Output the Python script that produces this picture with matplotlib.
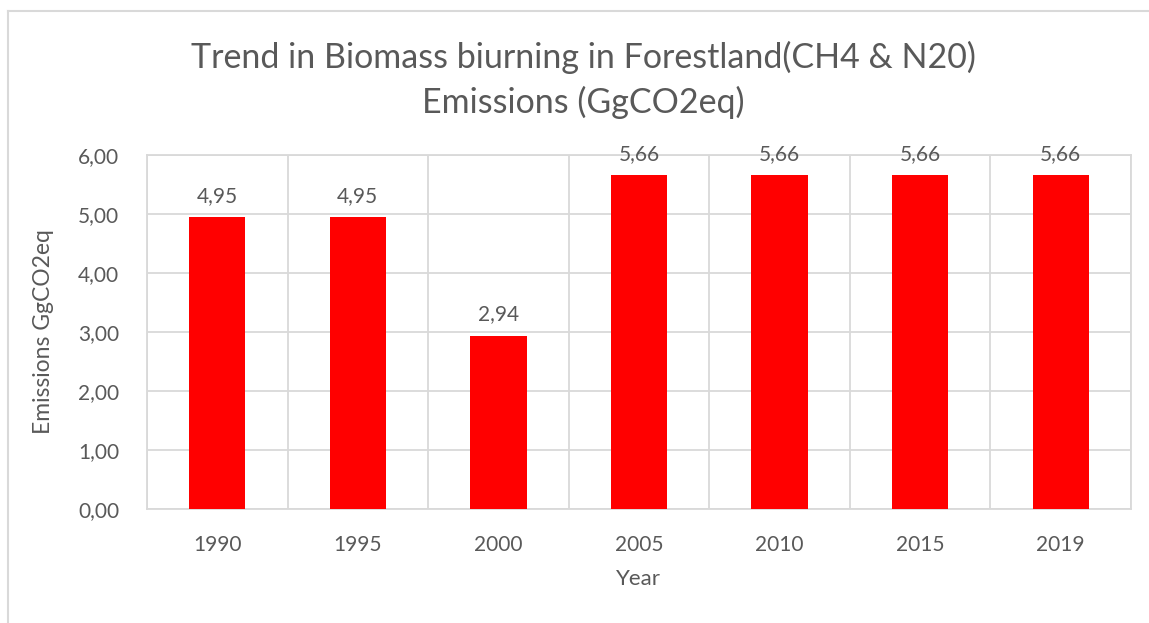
import matplotlib.pyplot as plt
from matplotlib.lines import Line2D
import numpy as np

years = ["1990", "1995", "2000", "2005", "2010", "2015", "2019"]
emissions = [4.95, 4.95, 2.94, 5.66, 5.66, 5.66, 5.66]
y_ticks = [0, 1, 2, 3, 4, 5, 6]

plt.rcParams["font.family"] = ["Lato", "DejaVu Sans"]
text_color = "#595959"
grid_color = "#d9d9d9"


def comma(v):
    return f"{v:.2f}".replace(".", ",")


fig = plt.figure(figsize=(11.49, 6.23), dpi=100)
ax = fig.add_axes([0.1279, 0.183, 0.8564, 0.5682])

x = np.arange(len(years))
bars = ax.bar(x, emissions, width=0.40, color="#ff0000", zorder=3)

for b, v in zip(bars, emissions):
    ax.annotate(
        comma(v),
        (b.get_x() + b.get_width() / 2, v),
        xytext=(0, 8),
        textcoords="offset points",
        ha="center",
        va="bottom",
        fontsize=15,
        color=text_color,
    )

ax.set_xlim(-0.5, len(years) - 0.5)
ax.set_ylim(0, 6)
ax.set_yticks(y_ticks)
ax.set_yticklabels([comma(v) for v in y_ticks])
ax.set_xticks(x)
ax.set_xticklabels(years)
ax.set_xticks(np.arange(len(years) + 1) - 0.5, minor=True)

ax.grid(True, axis="y", which="major", color=grid_color, linewidth=1.3, zorder=0)
ax.grid(True, axis="x", which="minor", color=grid_color, linewidth=1.3, zorder=0)
ax.tick_params(axis="both", which="both", length=0, labelsize=15, colors=text_color)
ax.tick_params(axis="x", pad=19)
ax.tick_params(axis="y", pad=20)
for s in ax.spines.values():
    s.set_color(grid_color)
    s.set_linewidth(1.3)

ax.set_xlabel("Year", fontsize=16, color=text_color, labelpad=10)
ax.set_ylabel("Emissions GgCO2eq", fontsize=16.5, color=text_color, labelpad=17)

fig.text(
    0.508,
    0.872,
    "Trend in Biomass biurning in Forestland(CH4 & N20)\nEmissions (GgCO2eq)",
    ha="center",
    va="center",
    fontsize=24.5,
    color=text_color,
    linespacing=1.45,
)

# outer chart border (cropped at right/bottom)
fig.add_artist(Line2D([8 / 1149, 8 / 1149], [0, 1 - 11 / 623], color=grid_color, lw=1.5))
fig.add_artist(Line2D([8 / 1149, 1], [1 - 11 / 623, 1 - 11 / 623], color=grid_color, lw=1.5))

fig.savefig("out.png", dpi=100)
